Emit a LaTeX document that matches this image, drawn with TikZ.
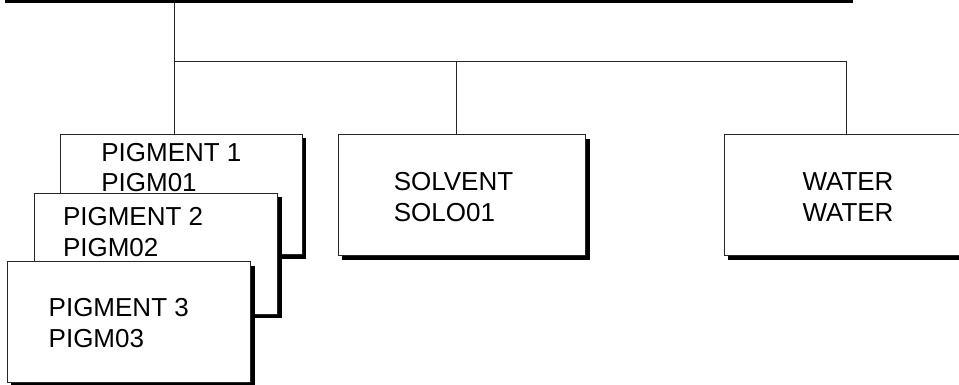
\documentclass[tikz,border=0pt]{standalone}
\usepackage{fontspec}
\setmainfont{Liberation Sans}
\usetikzlibrary{shadows}
\begin{document}
\begin{tikzpicture}[x=1pt,y=-1pt,
  boxframe/.style={draw=black!85, line width=1pt, fill=white, rectangle,
    inner sep=0pt, outer sep=0pt, anchor=north west, minimum height=120.5pt,
    drop shadow={shadow xshift=4pt, shadow yshift=-4pt, opacity=1, fill=black}},
  lbl/.style={anchor=base west, inner sep=0pt, outer sep=0pt, align=left,
    font=\fontsize{26}{31}\selectfont},
  conn/.style={draw=black!85, line width=1pt},
  bar/.style={draw=black, line width=3.5pt}]
\clip (0,0) rectangle (959,385);
\fill[white] (0,0) rectangle (959,385);
% boxes and their labels, back to front
\node[boxframe, minimum width=241.3pt] (b1) at (60.7,134.3) {};
\node[lbl] (t1) at (101.3,192) {PIGMENT 1\\PIGM01};
\node[boxframe, minimum width=243.7pt] (b2) at (34,193.5) {};
\node[lbl] (t2) at (63,256) {PIGMENT 2\\PIGM02};
\node[boxframe, minimum width=243.5pt] (b3) at (7.2,261.7) {};
\node[lbl] (t3) at (48.7,347.7) {PIGMENT 3\\PIGM03};
\node[boxframe, minimum width=247.7pt] (sol) at (338,135) {};
\node[lbl] (ts) at (393.8,221) {SOLVENT\\SOLO01};
\node[boxframe, minimum width=252pt] (wat) at (724,135) {};
\node[lbl] (tw) at (802.5,221.5) {WATER\\WATER};
% connectors
\coordinate (barL) at (5,1.75);
\coordinate (barR) at (852.7,1.75);
\coordinate (j1) at (174,62);
\coordinate (j2) at (456,62);
\coordinate (j3) at (846.7,62);
\draw[bar] (barL) -- (barR);
\draw[conn] (j1 |- 0,3.5) -- (j1 |- b1.north);
\draw[conn] (j1) -- (j3) -- (j3 |- wat.north);
\draw[conn] (j2) -- (j2 |- sol.north);
\end{tikzpicture}
\end{document}
